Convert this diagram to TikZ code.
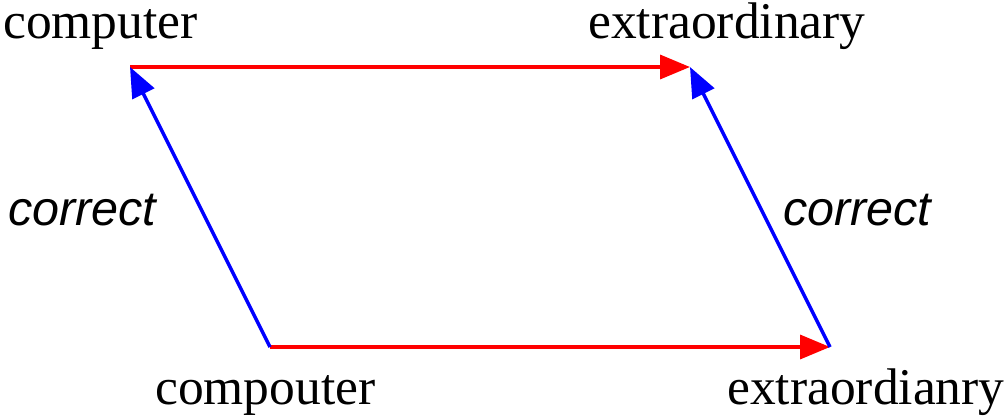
\documentclass[tikz,border=0pt]{standalone}
\usepackage{fontspec}
\setmainfont{Liberation Serif}
\newfontfamily\labelfont{Liberation Sans}
\usetikzlibrary{arrows.meta}
\begin{document}
\begin{tikzpicture}[x=1pt,y=-1pt,
  word/.style={anchor=base west,inner sep=0pt,font=\fontsize{51.5}{60}\selectfont},
  corr/.style={anchor=base west,inner sep=0pt,font=\labelfont\itshape\fontsize{48.5}{56}\selectfont},
  redarrow/.style={draw=red,line width=3.5pt,-{Triangle[length=30pt,width=24pt]},fill=red},
  bluearrow/.style={draw=blue,line width=3.5pt,-{Triangle[length=30pt,width=24pt]},fill=blue}]
\useasboundingbox (0,0) rectangle (1006,420);
\coordinate (A) at (130,67);
\coordinate (B) at (690,67);
\coordinate (C) at (270,347);
\coordinate (D) at (830,347);
\node[word] (t1) at (3,39) {computer};
\node[word] (t2) at (588,39) {extraordinary};
\node[word] (t3) at (155,404) {compouter};
\node[word] (t4) at (727,404) {extraordianry};
\node[corr] (c1) at (8,225) {correct};
\node[corr] (c2) at (783,225) {correct};
\draw[redarrow] (A) -- (B);
\draw[redarrow] (C) -- (D);
\draw[bluearrow] (C) -- (A);
\draw[bluearrow] (D) -- (B);
\end{tikzpicture}
\end{document}
